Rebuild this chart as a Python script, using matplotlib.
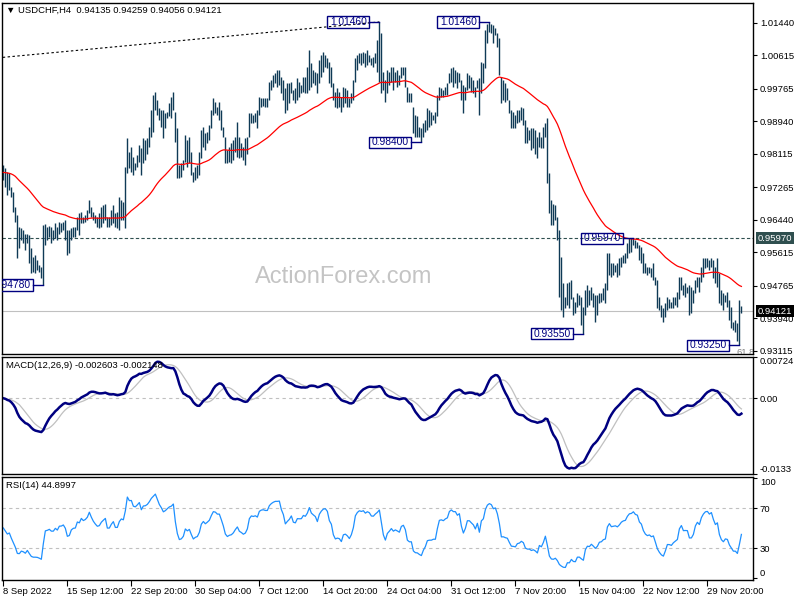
import numpy as np
import pandas as pd
import matplotlib
matplotlib.use("Agg")
import matplotlib.pyplot as plt
from matplotlib.patches import Rectangle

plt.rcParams['font.family'] = ['Liberation Sans', 'DejaVu Sans']

# H4 bars (high / low per bar)
high = [
    0.9783, 0.9774, 0.9766, 0.9762, 0.9728, 0.9715, 0.9677, 0.9656, 0.9626, 0.9622,
    0.9618, 0.9609, 0.9609, 0.9605, 0.9571, 0.9550, 0.9554, 0.9542, 0.9529, 0.9525,
    0.9631, 0.9633, 0.9626, 0.9628, 0.9626, 0.9618, 0.9635, 0.9626, 0.9639, 0.9635,
    0.9639, 0.9643, 0.9618, 0.9618, 0.9622, 0.9626, 0.9626, 0.9652, 0.9660, 0.9664,
    0.9652, 0.9656, 0.9669, 0.9694, 0.9677, 0.9664, 0.9656, 0.9652, 0.9660, 0.9677,
    0.9681, 0.9685, 0.9652, 0.9652, 0.9669, 0.9681, 0.9660, 0.9664, 0.9702, 0.9694,
    0.9690, 0.9779, 0.9851, 0.9817, 0.9829, 0.9804, 0.9787, 0.9808, 0.9834, 0.9825,
    0.9851, 0.9846, 0.9851, 0.9880, 0.9922, 0.9961, 0.9969, 0.9948, 0.9927, 0.9922,
    0.9922, 0.9914, 0.9918, 0.9939, 0.9956, 0.9969, 0.9918, 0.9876, 0.9783, 0.9787,
    0.9796, 0.9859, 0.9846, 0.9855, 0.9817, 0.9766, 0.9779, 0.9783, 0.9817, 0.9872,
    0.9880, 0.9863, 0.9867, 0.9884, 0.9922, 0.9952, 0.9944, 0.9931, 0.9944, 0.9922,
    0.9880, 0.9855, 0.9821, 0.9829, 0.9838, 0.9846, 0.9855, 0.9893, 0.9855, 0.9838,
    0.9829, 0.9851, 0.9855, 0.9914,
    0.9914, 0.9910, 0.9914, 0.9922, 0.9956, 0.9952, 0.9954, 0.9952, 0.9952, 0.9994,
    0.9999, 1.0011, 1.0016, 1.0024, 1.0024, 1.0007, 0.9999, 0.9978, 0.9990, 0.9990,
    0.9994, 0.9973, 0.9978, 1.0003, 0.9994, 0.9986, 1.0007, 1.0007, 1.0032, 1.0076,
    1.0041, 1.0024, 1.0020, 1.0016, 1.0049, 1.0062, 1.0070, 1.0062, 1.0054, 1.0045,
    1.0032, 0.9990, 0.9969, 0.9978, 0.9969, 0.9956, 0.9982, 0.9978, 0.9973, 0.9952,
    0.9965, 0.9999, 1.0054, 1.0062, 1.0066, 1.0066, 1.0070, 1.0066, 1.0075, 1.0062,
    1.0054, 1.0058, 1.0066, 1.0100, 1.0146, 1.0117, 1.0020, 0.9999, 1.0024, 1.0020,
    1.0032, 1.0032, 1.0020, 1.0024, 1.0011, 1.0032, 1.0032, 1.0032, 0.9982, 0.9965,
    0.9965, 0.9931, 0.9910, 0.9906, 0.9880, 0.9876, 0.9889, 0.9897, 0.9927, 0.9922,
    0.9918, 0.9910, 0.9918, 0.9961, 0.9982, 0.9978, 0.9973, 0.9982, 0.9990, 1.0016,
    1.0028, 1.0032, 1.0024, 1.0020, 1.0016, 0.9999, 0.9986, 0.9982, 1.0016, 1.0011,
    1.0007, 0.9999, 0.9982, 0.9999, 1.0003, 1.0045, 1.0041, 1.0125, 1.0142, 1.0146,
    1.0142, 1.0138, 1.0130, 1.0117, 1.0104,
    1.0007, 0.9999, 0.9990, 0.9978, 0.9948, 0.9922, 0.9918, 0.9910, 0.9922, 0.9922,
    0.9931, 0.9927, 0.9897, 0.9880, 0.9872, 0.9876, 0.9876, 0.9872, 0.9855, 0.9867,
    0.9855, 0.9880, 0.9889, 0.9901, 0.9762, 0.9694, 0.9685, 0.9681, 0.9652, 0.9618,
    0.9550, 0.9483, 0.9449, 0.9483, 0.9487, 0.9491, 0.9449, 0.9436, 0.9457, 0.9453,
    0.9449, 0.9423, 0.9466, 0.9478, 0.9466, 0.9474, 0.9457, 0.9453, 0.9453, 0.9457,
    0.9457, 0.9470, 0.9483, 0.9559, 0.9559, 0.9533, 0.9533, 0.9529, 0.9533, 0.9546,
    0.9550, 0.9554, 0.9559, 0.9584, 0.9597, 0.9597, 0.9597, 0.9592, 0.9588, 0.9580,
    0.9576, 0.9559, 0.9533, 0.9525, 0.9525, 0.9521, 0.9533, 0.9499, 0.9491, 0.9449,
    0.9427, 0.9419, 0.9432, 0.9449, 0.9444, 0.9436, 0.9449, 0.9449, 0.9461, 0.9499,
    0.9499, 0.9478, 0.9483, 0.9474, 0.9478, 0.9474, 0.9466, 0.9491, 0.9499, 0.9499,
    0.9525, 0.9546, 0.9546, 0.9546, 0.9542, 0.9546, 0.9542, 0.9525, 0.9546, 0.9508,
    0.9466, 0.9457, 0.9453, 0.9461, 0.9440, 0.9423, 0.9385, 0.9389, 0.9381, 0.9440,
    0.9426,
]
low = [
    0.9745, 0.9728, 0.9707, 0.9719, 0.9702, 0.9664, 0.9639, 0.9546, 0.9571, 0.9592,
    0.9584, 0.9567, 0.9584, 0.9533, 0.9508, 0.9512, 0.9508, 0.9516, 0.9512, 0.9495,
    0.9478, 0.9580, 0.9592, 0.9599, 0.9584, 0.9592, 0.9597, 0.9592, 0.9609, 0.9614,
    0.9618, 0.9592, 0.9554, 0.9559, 0.9592, 0.9599, 0.9601, 0.9618, 0.9605, 0.9635,
    0.9635, 0.9639, 0.9643, 0.9660, 0.9652, 0.9643, 0.9635, 0.9626, 0.9622, 0.9626,
    0.9635, 0.9643, 0.9626, 0.9626, 0.9631, 0.9635, 0.9626, 0.9622, 0.9618, 0.9643,
    0.9643, 0.9622, 0.9762, 0.9774, 0.9766, 0.9757, 0.9770, 0.9779, 0.9791, 0.9757,
    0.9787, 0.9796, 0.9812, 0.9829, 0.9855, 0.9867, 0.9922, 0.9910, 0.9897, 0.9880,
    0.9851, 0.9876, 0.9901, 0.9906, 0.9901, 0.9922, 0.9842, 0.9749, 0.9749, 0.9753,
    0.9770, 0.9791, 0.9779, 0.9787, 0.9757, 0.9741, 0.9745, 0.9749, 0.9757, 0.9800,
    0.9829, 0.9821, 0.9838, 0.9846, 0.9876, 0.9910, 0.9914, 0.9910, 0.9897, 0.9872,
    0.9855, 0.9787, 0.9787, 0.9791, 0.9787, 0.9796, 0.9817, 0.9804, 0.9800, 0.9804,
    0.9796, 0.9783, 0.9812, 0.9855,
    0.9889, 0.9889, 0.9893, 0.9876, 0.9910, 0.9931, 0.9933, 0.9931, 0.9931, 0.9948,
    0.9973, 0.9982, 0.9990, 0.9982, 0.9986, 0.9965, 0.9948, 0.9914, 0.9922, 0.9939,
    0.9965, 0.9948, 0.9939, 0.9948, 0.9956, 0.9965, 0.9969, 0.9965, 0.9965, 0.9973,
    0.9982, 0.9990, 0.9986, 0.9965, 0.9990, 1.0007, 1.0020, 1.0032, 1.0028, 0.9990,
    0.9982, 0.9948, 0.9931, 0.9927, 0.9931, 0.9918, 0.9931, 0.9939, 0.9931, 0.9931,
    0.9939, 0.9948, 0.9994, 1.0024, 1.0041, 1.0037, 1.0041, 1.0032, 1.0037, 1.0045,
    1.0037, 1.0032, 1.0041, 1.0020, 0.9994, 0.9965, 0.9973, 0.9944, 0.9965, 0.9986,
    0.9994, 0.9973, 0.9994, 0.9982, 0.9986, 1.0003, 1.0011, 0.9982, 0.9944, 0.9944,
    0.9944, 0.9863, 0.9855, 0.9855, 0.9855, 0.9840, 0.9855, 0.9867, 0.9872, 0.9880,
    0.9884, 0.9897, 0.9889, 0.9906, 0.9948, 0.9956, 0.9956, 0.9961, 0.9961, 0.9990,
    0.9994, 0.9982, 0.9990, 0.9978, 0.9994, 0.9948, 0.9914, 0.9948, 0.9973, 0.9978,
    0.9969, 0.9965, 0.9956, 0.9978, 0.9910, 0.9965, 0.9990, 1.0028, 1.0092, 1.0121,
    1.0117, 1.0092, 1.0113, 1.0083, 1.0011,
    0.9939, 0.9948, 0.9944, 0.9948, 0.9914, 0.9876, 0.9876, 0.9876, 0.9889, 0.9893,
    0.9897, 0.9884, 0.9838, 0.9838, 0.9846, 0.9821, 0.9825, 0.9812, 0.9800, 0.9829,
    0.9825, 0.9825, 0.9855, 0.9736, 0.9660, 0.9631, 0.9631, 0.9643, 0.9592, 0.9449,
    0.9415, 0.9398, 0.9419, 0.9427, 0.9419, 0.9444, 0.9402, 0.9406, 0.9423, 0.9427,
    0.9377, 0.9355, 0.9402, 0.9423, 0.9427, 0.9440, 0.9423, 0.9385, 0.9402, 0.9432,
    0.9436, 0.9440, 0.9432, 0.9466, 0.9504, 0.9499, 0.9504, 0.9512, 0.9499, 0.9504,
    0.9525, 0.9533, 0.9533, 0.9546, 0.9559, 0.9563, 0.9580, 0.9571, 0.9571, 0.9542,
    0.9533, 0.9508, 0.9508, 0.9504, 0.9508, 0.9499, 0.9491, 0.9478, 0.9419, 0.9415,
    0.9398, 0.9385, 0.9398, 0.9415, 0.9419, 0.9419, 0.9419, 0.9427, 0.9423, 0.9444,
    0.9466, 0.9453, 0.9449, 0.9457, 0.9402, 0.9406, 0.9432, 0.9457, 0.9474, 0.9461,
    0.9487, 0.9499, 0.9521, 0.9525, 0.9516, 0.9525, 0.9495, 0.9483, 0.9474, 0.9432,
    0.9427, 0.9415, 0.9436, 0.9423, 0.9389, 0.9368, 0.9364, 0.9360, 0.9335, 0.9325,
    0.9406,
]

date_ticks = [0, 32, 64, 96, 128, 160, 192, 224, 256, 288, 320, 352]
date_labels = ["8 Sep 2022", "15 Sep 12:00", "22 Sep 20:00", "30 Sep 04:00",
               "7 Oct 12:00", "14 Oct 20:00", "24 Oct 04:00", "31 Oct 12:00",
               "7 Nov 20:00", "15 Nov 04:00", "22 Nov 12:00", "29 Nov 20:00"]
price_ticks = [1.01440, 1.00615, 0.99765, 0.98940, 0.98115, 0.97265,
               0.96440, 0.95615, 0.94765, 0.93940, 0.93115]

# swing labels: bar index, price
swing_bars = [188, 243, 209, 315, 290, 368, 20]
swing_prices = [1.0146, 1.0146, 0.9840, 0.9597, 0.9355, 0.9325, 0.9478]
trend_x = [-0.3, 188]
trend_y = [1.0056, 1.0146]
level = 0.9597
last_close = 0.94121

header = "\u25bc USDCHF,H4  0.94135 0.94259 0.94056 0.94121"
macd_title = "MACD(12,26,9) -0.002603 -0.002148"
rsi_title = "RSI(14) 44.8997"

# indicators from the bars
hi = np.array(high)
lo = np.array(low)
x = np.arange(len(hi))
close = pd.Series((hi + lo) / 2)
ma = close.ewm(span=55, adjust=False).mean()
macd = close.ewm(span=12, adjust=False).mean() - close.ewm(span=26, adjust=False).mean()
signal = macd.rolling(9, min_periods=1).mean()
delta = close.diff()
gain = delta.clip(lower=0)
loss = -delta.clip(upper=0)
# no history before the first bar: start both averages level
gain.iloc[0] = 0.0008
loss.iloc[0] = 0.0008
up = gain.ewm(alpha=1 / 14, adjust=False).mean()
dn = loss.ewm(alpha=1 / 14, adjust=False).mean()
rsi = 100 - 100 / (1 + up / dn)

bar_col = '#0f3a56'
navy = '#000080'
fs = 6.8

fig = plt.figure(figsize=(8, 6), dpi=100)
W = 751 / 800
ax = fig.add_axes([2 / 800, 1 - 354 / 600, W, 351.5 / 600])
ax2 = fig.add_axes([2 / 800, 1 - 474 / 600, W, 117 / 600])
ax3 = fig.add_axes([2 / 800, 1 - 580 / 600, W, 103 / 600])

for a in (ax, ax2, ax3):
    a.set_xlim(-0.67, 374.8)
    for s in a.spines.values():
        s.set_color('black')
        s.set_linewidth(1.0)
    a.yaxis.tick_right()
    a.tick_params(axis='y', length=3, width=0.8, labelsize=fs, pad=2, colors='black')
    a.tick_params(axis='x', length=0, labelbottom=False)

# main panel
ax.set_ylim(0.93032, 1.01953)
ax.set_yticks(price_ticks)
ax.set_yticklabels([f"{p:.5f}" for p in price_ticks])
ax.text(0.455, 0.22, "ActionForex.com", transform=ax.transAxes, fontsize=17,
        color='#c4c4c4', ha='center', va='center', zorder=0)
ax.axhline(level, color='#2f4f4f', lw=0.8, ls=(0, (3, 2)), zorder=1)
ax.axhline(last_close, color='#c0c0c0', lw=0.8, zorder=1)
ax.plot(trend_x, trend_y, color='black', lw=0.8, ls=(0, (2.2, 2.2)), zorder=1)
ax.vlines(x, lo, hi, color=bar_col, lw=1.0, zorder=2)
ax.plot(x, ma, color='#ff0000', lw=0.9, zorder=3)

bw, bh, gap = 21, 0.0029, 5
for b, p in zip(swing_bars, swing_prices):
    r = b - gap
    ax.add_patch(Rectangle((r - bw, p - bh / 2), bw, bh, fill=False,
                           ec=navy, lw=1.0, zorder=4))
    ax.plot([r, b], [p, p], color=navy, lw=1.0, zorder=4)
    ax.text(r - bw / 2, p, f"{p:.5f}", color=navy, fontsize=7.4,
            ha='center', va='center', zorder=4, clip_on=True)
ax.text(366.5, 0.9307, "61.8", color='#808080', fontsize=fs, ha='left',
        va='center', clip_on=True)

ax.text(0.005, 0.979, header, transform=ax.transAxes, fontsize=fs,
        ha='left', va='center')
yt = ax.get_yaxis_transform()
ax.text(1.006, level, f"{level:.5f}", transform=yt, color='white', fontsize=fs,
        ha='left', va='center', zorder=6, clip_on=False,
        bbox=dict(boxstyle='square,pad=0.18', fc='#2f4f4f', ec='none'))
ax.text(1.006, last_close, f"{last_close:.5f}", transform=yt, color='white',
        fontsize=fs, ha='left', va='center', zorder=6, clip_on=False,
        bbox=dict(boxstyle='square,pad=0.18', fc='black', ec='none'))

# MACD panel
ax2.set_ylim(-0.0133, 0.00724)
ax2.axhline(0, color='#c0c0c0', lw=0.8, ls=(0, (3, 3)))
ax2.plot(x, signal, color='#c0c0c0', lw=0.9)
ax2.plot(x, macd, color=navy, lw=1.8)
ax2.set_yticks([0.00724, 0.0, -0.0133])
ax2.set_yticklabels(["0.00724", "0.00", "-0.0133"])
lb = ax2.get_yticklabels()
lb[0].set_va('top')
lb[2].set_va('bottom')
ax2.text(0.005, 0.93, macd_title, transform=ax2.transAxes, fontsize=fs,
         ha='left', va='center')

# RSI panel
ax3.set_ylim(-2, 101)
for lv in (70, 30):
    ax3.axhline(lv, color='#c0c0c0', lw=0.8, ls=(0, (3, 3)))
ax3.plot(x, rsi, color='#1e90ff', lw=0.9)
ax3.set_yticks([100, 70, 30, 0])
ax3.set_yticklabels(["100", "70", "30", "0"])
lb = ax3.get_yticklabels()
lb[0].set_va('top')
lb[3].set_va('bottom')
ax3.text(0.005, 0.92, rsi_title, transform=ax3.transAxes, fontsize=fs,
         ha='left', va='center')
ax3.set_xticks(date_ticks)
ax3.set_xticklabels(date_labels)
ax3.tick_params(axis='x', length=4, width=0.8, labelbottom=True, labelsize=fs, pad=1)
for t in ax3.get_xticklabels():
    t.set_ha('left')

fig.savefig("out.png", dpi=100)
